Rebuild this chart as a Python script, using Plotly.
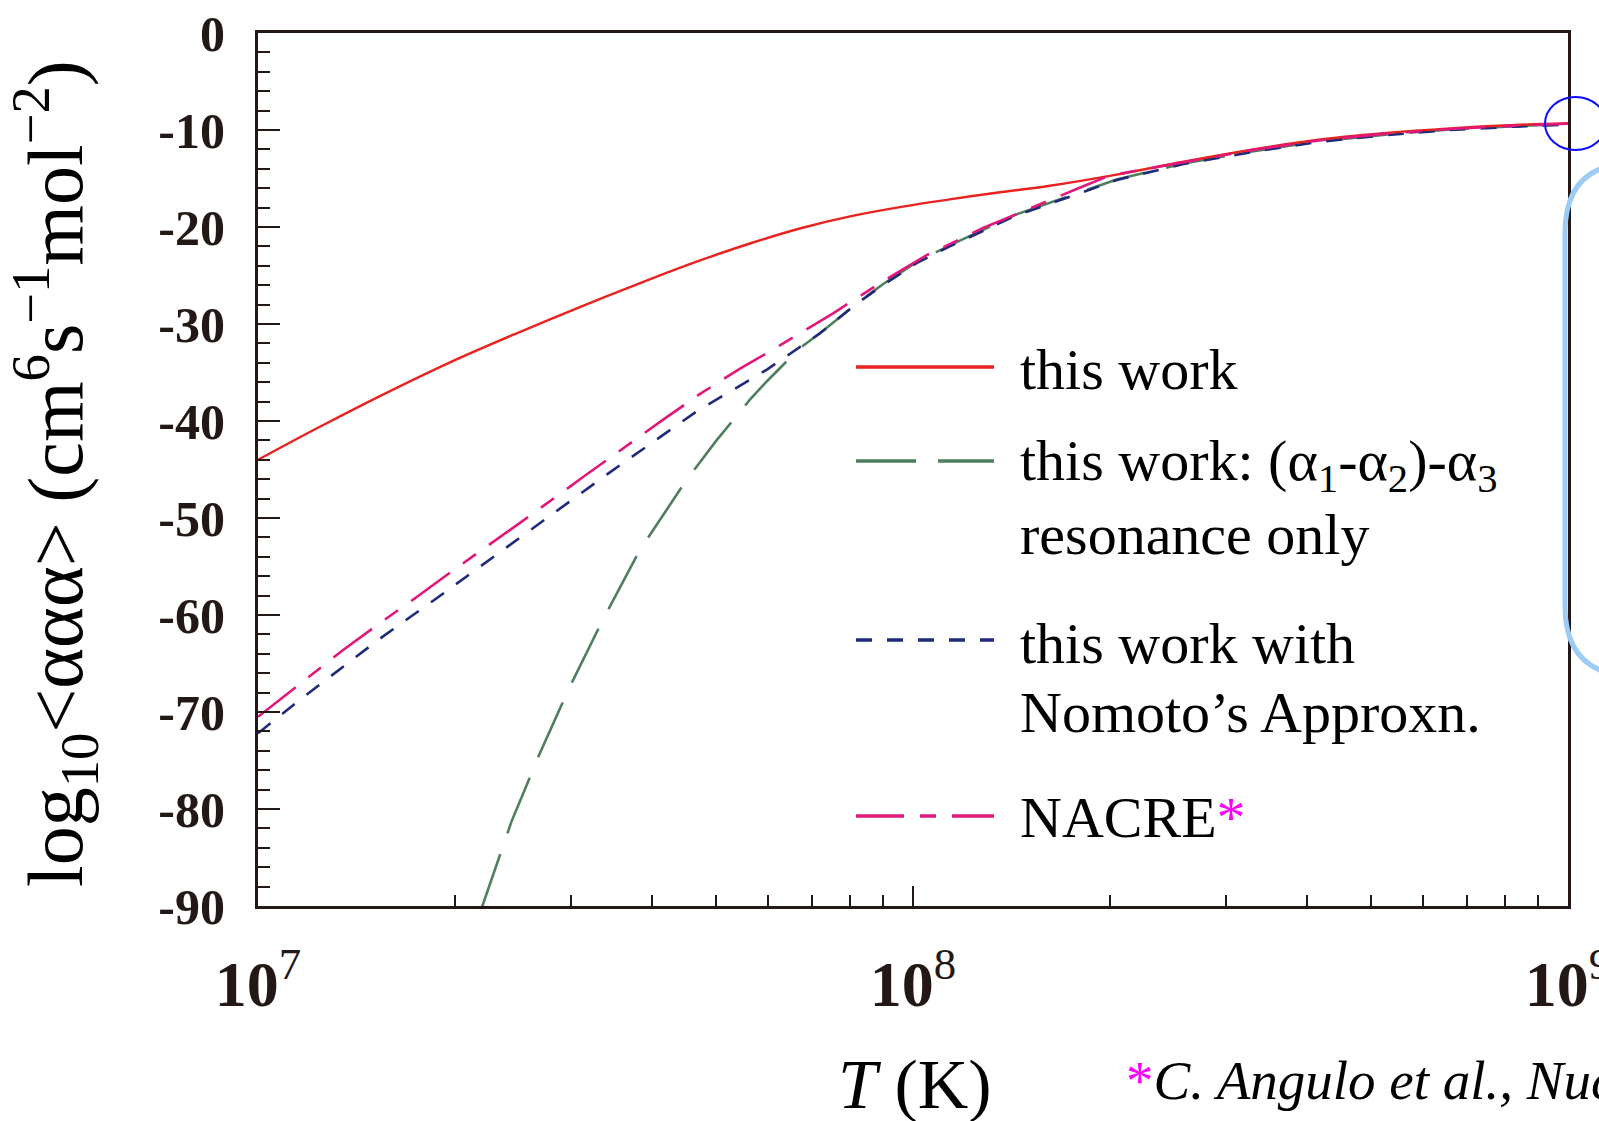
import numpy as np
import plotly.graph_objects as go

# ---------------- data ----------------
# log10(T/K) and log10<aaa> for each curve
red_logT = [7.0, 7.09, 7.19, 7.29, 7.395, 7.497, 7.598, 7.675, 7.751, 7.83, 7.904, 7.98,
            8.056, 8.13, 8.209, 8.311, 8.413, 8.515, 8.616, 8.718, 8.82, 8.92, 9.0]
red_val = [-44.0, -40.75, -37.3, -34.05, -30.96, -28.1, -25.4, -23.45, -21.7, -20.1, -18.9, -17.95,
           -17.15, -16.45, -15.75, -14.6, -13.27, -12.06, -11.03, -10.34, -9.83, -9.48, -9.3]

green_logT = [7.340, 7.387, 7.43, 7.476, 7.525, 7.56, 7.583, 7.654, 7.70, 7.751, 7.777,
              7.827, 7.858, 7.914, 7.954, 8.006, 8.056, 8.158, 8.26, 8.311, 8.413,
              8.515, 8.616, 8.718, 8.82, 8.92, 9.0]
green_val = [-90.5, -81.3, -74.3, -67.4, -60.7, -56.2, -53.3, -46.1, -42.0, -37.8, -35.9,
             -32.5, -30.96, -27.9, -25.9, -23.6, -21.9, -18.7, -16.3, -15.1, -13.45,
             -12.25, -11.2, -10.5, -9.95, -9.6, -9.4]

blue_logT = [7.0, 7.059, 7.146, 7.191, 7.268, 7.4, 7.535, 7.596, 7.644, 7.672, 7.725,
             7.777, 7.858, 7.914, 7.954, 8.006, 8.056, 8.158, 8.26, 8.311, 8.413,
             8.515, 8.616, 8.718, 8.82, 8.92, 9.0]
blue_val = [-72.2, -69.0, -64.5, -62.2, -58.5, -52.0, -45.4, -42.5, -40.2, -38.9, -36.8,
            -34.7, -30.96, -27.9, -26.0, -23.7, -22.0, -18.8, -16.4, -15.15, -13.5,
            -12.3, -11.25, -10.55, -10.0, -9.65, -9.45]

pink_logT = [7.0, 7.059, 7.13, 7.191, 7.235, 7.3, 7.4, 7.5, 7.537, 7.596, 7.624, 7.675,
             7.736, 7.777, 7.817, 7.878, 7.954, 8.021, 8.107, 8.209, 8.26, 8.30,
             8.413, 8.515, 8.616, 8.718, 8.82, 8.92, 9.0]
pink_val = [-70.5, -67.4, -63.6, -60.6, -58.5, -55.3, -50.5, -45.6, -43.8, -41.0, -39.6, -37.2,
            -34.6, -33.0, -31.4, -28.9, -25.6, -22.9, -20.1, -17.2, -15.8, -14.7,
            -13.3, -12.1, -11.1, -10.4, -9.9, -9.55, -9.35]

x_tick_vals = [1e7, 1e8, 1e9]
x_tick_text = ["<b>10</b><sup>7</sup>", "<b>10</b><sup>8</sup>", "<b>10</b><sup>9</sup>"]
y_tick_vals = [0, -10, -20, -30, -40, -50, -60, -70, -80, -90]
y_tick_text = ["0", "-10", "-20", "-30", "-40", "-50", "-60", "-70", "-80", "-90"]

legend_labels = ["this work",
                 "this work: (α<sub>1</sub>-α<sub>2</sub>)-α<sub>3</sub>", "resonance only",
                 "this work with", "Nomoto’s Approxn.",
                 "NACRE<span style='color:#ff00ff'>*</span>"]

# ---------------- styling ----------------
FONT = "Liberation Serif, Times New Roman, serif"
INK = "#231815"
C_RED = "#e8231f"
C_GREEN = "#4e7f5c"
C_BLUE = "#1f2a7c"
C_PINK = "#e2177a"
D_GREEN = "60px,22px"
D_BLUE = "16px,15px"
D_PINK = "48px,16px,16px,16px"

# plot-area pixel geometry
L, R, T, B = 258, 1568, 33, 906
W, H = 1599, 1121


def px(X):
    return (X - L) / (R - L)


def py(Y):
    return (B - Y) / (B - T)


fig = go.Figure()
series = [
    (green_logT, green_val, C_GREEN, D_GREEN, 2.6, "linear"),
    (blue_logT, blue_val, C_BLUE, D_BLUE, 2.6, "linear"),
    (red_logT, red_val, C_RED, "solid", 2.4, "spline"),
    (pink_logT, pink_val, C_PINK, D_PINK, 2.6, "linear"),
]
for lx, ly, col, dash, w, shp in series:
    fig.add_trace(go.Scatter(
        x=np.power(10.0, np.array(lx)), y=ly, mode="lines",
        line=dict(color=col, dash=dash, width=w, shape=shp, smoothing=1.0),
        showlegend=False, hoverinfo="skip"))

minor_x = [m * 10 ** e for e in (7, 8) for m in range(2, 10)]
minor_y = [v for v in range(-88, 0, 2) if v % 10 != 0]

fig.update_xaxes(
    type="log", range=[7, 9],
    tickmode="array", tickvals=x_tick_vals, ticktext=x_tick_text,
    ticks="inside", ticklen=20, tickwidth=2, tickcolor=INK,
    minor=dict(tickvals=minor_x, ticks="inside", ticklen=11, tickwidth=2, tickcolor=INK),
    showline=True, linewidth=3, linecolor=INK, mirror=True,
    showgrid=False, zeroline=False,
    tickfont=dict(family=FONT, size=64, color=INK),
    ticklabelstandoff=20, ticklabeloverflow="allow",
)
fig.update_yaxes(
    range=[-90, 0],
    tickmode="array", tickvals=y_tick_vals, ticktext=y_tick_text,
    ticks="inside", ticklen=22, tickwidth=2, tickcolor=INK,
    minor=dict(tickvals=minor_y, ticks="inside", ticklen=12, tickwidth=2, tickcolor=INK),
    showline=True, linewidth=3, linecolor=INK, mirror=True,
    showgrid=False, zeroline=False,
    tickfont=dict(family=FONT, size=50, color=INK, weight="bold"),
    ticklabelstandoff=20, ticklabeloverflow="allow",
)

annotations = []
# axis titles
annotations.append(dict(
    xref="paper", yref="paper", x=px(55), y=py(474), xanchor="center", yanchor="middle",
    textangle=-90, showarrow=False,
    text="log<sub>10</sub>&lt;ααα&gt; (cm<sup>6</sup>s<sup>−1</sup>mol<sup>−2</sup>)",
    font=dict(family=FONT, size=78, color="black")))
annotations.append(dict(
    xref="paper", yref="paper", x=px(915), y=py(1084), xanchor="center", yanchor="middle",
    showarrow=False, text="<i>T</i> (K)",
    font=dict(family=FONT, size=70, color="black")))
# reference note
annotations.append(dict(
    xref="paper", yref="paper", x=px(1124), y=py(1080), xanchor="left", yanchor="middle",
    showarrow=False,
    text="<span style='color:#ff00ff'>*</span><i>C. Angulo et al., Nucl. Phys. A 656 (1999) 3</i>",
    font=dict(family=FONT, size=55, color="black")))

# legend (text + line samples)
legend_y = [370, 464, 534, 643, 712, 817]
for lab, yy in zip(legend_labels, legend_y):
    annotations.append(dict(
        xref="paper", yref="paper", x=px(1018), y=py(yy), xanchor="left", yanchor="middle",
        showarrow=False, text=lab, font=dict(family=FONT, size=58, color="black")))

shapes = []
for yy, col, dash in [(367, C_RED, "solid"), (461, C_GREEN, D_GREEN),
                      (640, C_BLUE, D_BLUE), (816, C_PINK, D_PINK)]:
    shapes.append(dict(type="line", xref="paper", yref="paper",
                       x0=px(856), x1=px(994), y0=py(yy), y1=py(yy),
                       line=dict(color=col, width=3.5, dash=dash)))

# slide highlights: blue ellipse and light-blue rounded box at the right edge
shapes.append(dict(type="circle", xref="paper", yref="paper",
                   x0=px(1545), x1=px(1606), y0=py(150), y1=py(97),
                   line=dict(color="#0a0aff", width=2)))
r = 70
xl, yt, yb, xr = 1565, 163, 676, 1660
pts = (f"M {px(xr)},{py(yt)} L {px(xl + r)},{py(yt)} "
       f"Q {px(xl)},{py(yt)} {px(xl)},{py(yt + r)} "
       f"L {px(xl)},{py(yb - r)} Q {px(xl)},{py(yb)} {px(xl + r)},{py(yb)} "
       f"L {px(xr)},{py(yb)}")
shapes.append(dict(type="path", xref="paper", yref="paper", path=pts,
                   line=dict(color="#9ccbf5", width=5)))

fig.update_layout(
    width=W, height=H,
    margin=dict(l=L, r=W - R, t=T, b=H - B, autoexpand=False),
    paper_bgcolor="white", plot_bgcolor="white",
    font=dict(family=FONT, color=INK),
    annotations=annotations, shapes=shapes,
    showlegend=False,
)

fig.write_html("out.html")
